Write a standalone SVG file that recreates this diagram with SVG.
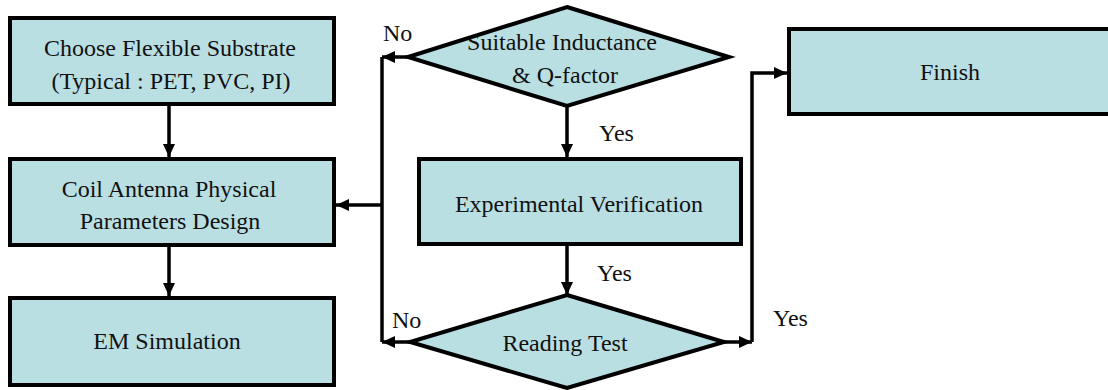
<svg xmlns="http://www.w3.org/2000/svg" width="1108" height="390" viewBox="0 0 1108 390" font-family="Liberation Serif, Times New Roman, serif" font-size="24">
<style>
.box{fill:#badfe3;stroke:#000;stroke-width:4}
.t{fill:#111;text-anchor:middle}
.l{fill:#111}
.c{fill:none;stroke:#000;stroke-width:3.5}
</style>
<defs>
<marker id="ah" markerUnits="userSpaceOnUse" markerWidth="13" markerHeight="12" refX="13" refY="6" orient="auto">
<path d="M0,0 L13,6 L0,12 z" fill="#000"/>
</marker>
<clipPath id="cd1">
<polygon points="567,9 727,57 567,104 410,57"/>
</clipPath>
</defs>
<rect width="1108" height="390" fill="#fff"/>
<g id="connectors">
<path class="c" d="M169,106 V157" marker-end="url(#ah)"/>
<path class="c" d="M169,247 V296" marker-end="url(#ah)"/>
<path class="c" d="M408,57 H382" marker-end="url(#ah)"/>
<path class="c" d="M382,57 V342"/>
<path class="c" d="M382,205 H336" marker-end="url(#ah)"/>
<path class="c" d="M410,342 H382" marker-end="url(#ah)"/>
<path class="c" d="M567,106 V157" marker-end="url(#ah)"/>
<path class="c" d="M567,246 V295" marker-end="url(#ah)"/>
<path class="c" d="M724,342 H752" marker-end="url(#ah)"/>
<path class="c" d="M752,342 V73 H787" marker-end="url(#ah)"/>
<text class="l" x="383" y="41" font-family="Liberation Serif, serif">No</text>
<text class="l" x="392" y="328" font-family="Liberation Serif, serif">No</text>
<text class="l" x="599" y="141" font-family="Liberation Serif, serif">Yes</text>
<text class="l" x="597" y="281" font-family="Liberation Serif, serif">Yes</text>
<text class="l" x="773" y="326" font-family="Liberation Serif, serif">Yes</text>
</g>
<g id="n1">
<rect class="box" x="10" y="18" width="324" height="86"/>
<text class="t" x="170" y="56" font-family="Liberation Serif, serif">Choose Flexible Substrate</text>
<text class="t" x="171" y="89" font-family="Liberation Serif, serif">(Typical : PET, PVC, PI)</text>
</g>
<g id="n2">
<rect class="box" x="10" y="159" width="324" height="86"/>
<text class="t" x="169" y="197" font-family="Liberation Serif, serif">Coil Antenna Physical</text>
<text class="t" x="170" y="229" font-family="Liberation Serif, serif">Parameters Design</text>
</g>
<g id="n3">
<rect class="box" x="10" y="298" width="324" height="87"/>
<text class="t" x="167" y="349" font-family="Liberation Serif, serif">EM Simulation</text>
</g>
<g id="d1">
<polygon points="567,7 729,57 567,106 408,57" fill="#badfe3"/>
<g clip-path="url(#cd1)">
<text class="t" x="562" y="50" font-family="Liberation Serif, serif">Suitable Inductance</text>
<text class="t" x="565" y="83" font-family="Liberation Serif, serif">&amp; Q-factor</text>
</g>
<polygon points="567,7 729,57 567,106 408,57" fill="none" stroke="#000" stroke-width="4"/>
</g>
<g id="n4">
<rect class="box" x="419" y="159" width="322" height="85"/>
<text class="t" x="579" y="212" font-family="Liberation Serif, serif">Experimental Verification</text>
</g>
<g id="d2">
<polygon points="567,295 724,342 567,388 410,342" class="box"/>
<text class="t" x="565" y="351" font-family="Liberation Serif, serif">Reading Test</text>
</g>
<g id="n5">
<rect class="box" x="789" y="29" width="326" height="85"/>
<text class="t" x="950" y="80" font-family="Liberation Serif, serif">Finish</text>
</g>
</svg>
